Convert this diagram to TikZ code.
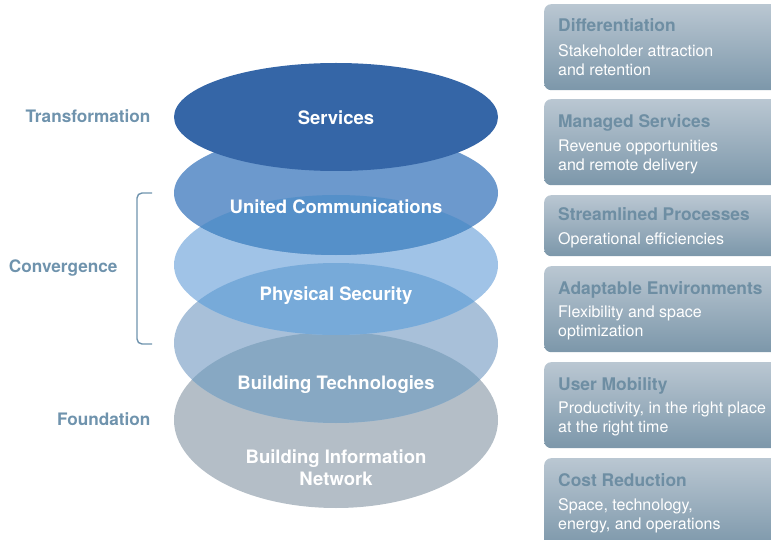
\documentclass[tikz,border=0pt]{standalone}
\usepackage{fontspec}
\setmainfont{TeX Gyre Heros}
\definecolor{svc}{HTML}{3566A7}
\definecolor{ucm}{HTML}{6C99CD}
\definecolor{ucps}{HTML}{5590C9}
\definecolor{phs}{HTML}{A0C3E7}
\definecolor{psbt}{HTML}{77AAD9}
\definecolor{bld}{HTML}{A8C0D9}
\definecolor{btbin}{HTML}{87A8C3}
\definecolor{bin}{HTML}{B4BEC7}
\definecolor{lefttxt}{HTML}{6F93AD}
\definecolor{boxtitle}{HTML}{6E8EA3}
\definecolor{boxtop}{HTML}{BAC7D2}
\definecolor{boxbot}{HTML}{7C97AA}
\begin{document}
\begin{tikzpicture}[x=1pt,y=-1pt,
    layer/.style={text=white,font=\bfseries\fontsize{18.5}{22}\selectfont,align=center},
    side/.style={text=lefttxt,font=\bfseries\fontsize{17.2}{20}\selectfont,anchor=east},
    infobox/.style={anchor=north west,rounded corners=7pt,top color=boxtop,bottom color=boxbot,draw=none,minimum width=250pt,inner sep=0pt},
    boxhead/.style={text=boxtitle,font=\bfseries\fontsize{17.4}{20}\selectfont,anchor=base west,inner sep=0pt},
    boxbody/.style={text=white,font=\fontsize{16}{19}\selectfont,anchor=north west,align=left,inner sep=0pt}]
    \useasboundingbox (0,0) rectangle (771,540);
    \clip (0,0) rectangle (771,540);
    \fill[bin] (336,420) ellipse [x radius=162pt,y radius=88pt];
    \fill[bld] (336,343) ellipse [x radius=162pt,y radius=80pt];
    \begin{scope}
        \clip (336,420) ellipse [x radius=162pt,y radius=88pt];
        \fill[btbin] (336,343) ellipse [x radius=162pt,y radius=80pt];
    \end{scope}
    \fill[phs] (336,265) ellipse [x radius=162pt,y radius=70pt];
    \begin{scope}
        \clip (336,343) ellipse [x radius=162pt,y radius=80pt];
        \fill[psbt] (336,265) ellipse [x radius=162pt,y radius=70pt];
    \end{scope}
    \fill[ucm] (336,193) ellipse [x radius=162pt,y radius=62pt];
    \begin{scope}
        \clip (336,265) ellipse [x radius=162pt,y radius=70pt];
        \fill[ucps] (336,193) ellipse [x radius=162pt,y radius=62pt];
    \end{scope}
    \fill[svc] (336,117) ellipse [x radius=162pt,y radius=54pt];
    \node[layer] (svcs) at (336,118) {Services};
    \node[layer] (uc) at (336,207) {United Communications};
    \node[layer] (ps) at (336,296) {Physical Security};
    \node[layer] (bt) at (336,385) {Building Technologies};
    \node[layer] (bin) at (336,468) {Building Information\\Network};
    \node[side] (trans) at (154,116) {Transformation};
    \node[side] (conv) at (121,268) {Convergence};
    \node[side] (found) at (154,419) {Foundation};
    \draw[lefttxt,line width=1.4pt,rounded corners=5pt] (152,193) -- (137,193) -- (137,344) -- (152,344);
    \node[infobox,minimum height=86pt] (diff) at (544,4) {};
    \node[boxhead] (diffh) at (558,32) {Differentiation};
    \node[boxbody] (diffb) at (558,44) {Stakeholder attraction\\and retention};
    \node[infobox,minimum height=86pt] (mgd) at (544,99) {};
    \node[boxhead] (mgdh) at (558,128) {Managed Services};
    \node[boxbody] (mgdb) at (558,140) {Revenue opportunities\\and remote delivery};
    \node[infobox,minimum height=61pt] (strm) at (544,195) {};
    \node[boxhead] (strmh) at (558,221) {Streamlined Processes};
    \node[boxbody] (strmb) at (558,232) {Operational efficiencies};
    \node[infobox,minimum height=86pt] (adpt) at (544,266) {};
    \node[boxhead] (adpth) at (558,294) {Adaptable Environments};
    \node[boxbody] (adptb) at (558,306) {Flexibility and space\\optimization};
    \node[infobox,minimum height=86pt] (mob) at (544,362) {};
    \node[boxhead] (mobh) at (558,390) {User Mobility};
    \node[boxbody] (mobb) at (558,402) {Productivity, in the right place\\at the right time};
    \node[infobox,minimum height=90pt] (cost) at (544,458) {};
    \node[boxhead] (costh) at (558,486) {Cost Reduction};
    \node[boxbody] (costb) at (558,498) {Space, technology,\\energy, and operations};
\end{tikzpicture}
\end{document}
